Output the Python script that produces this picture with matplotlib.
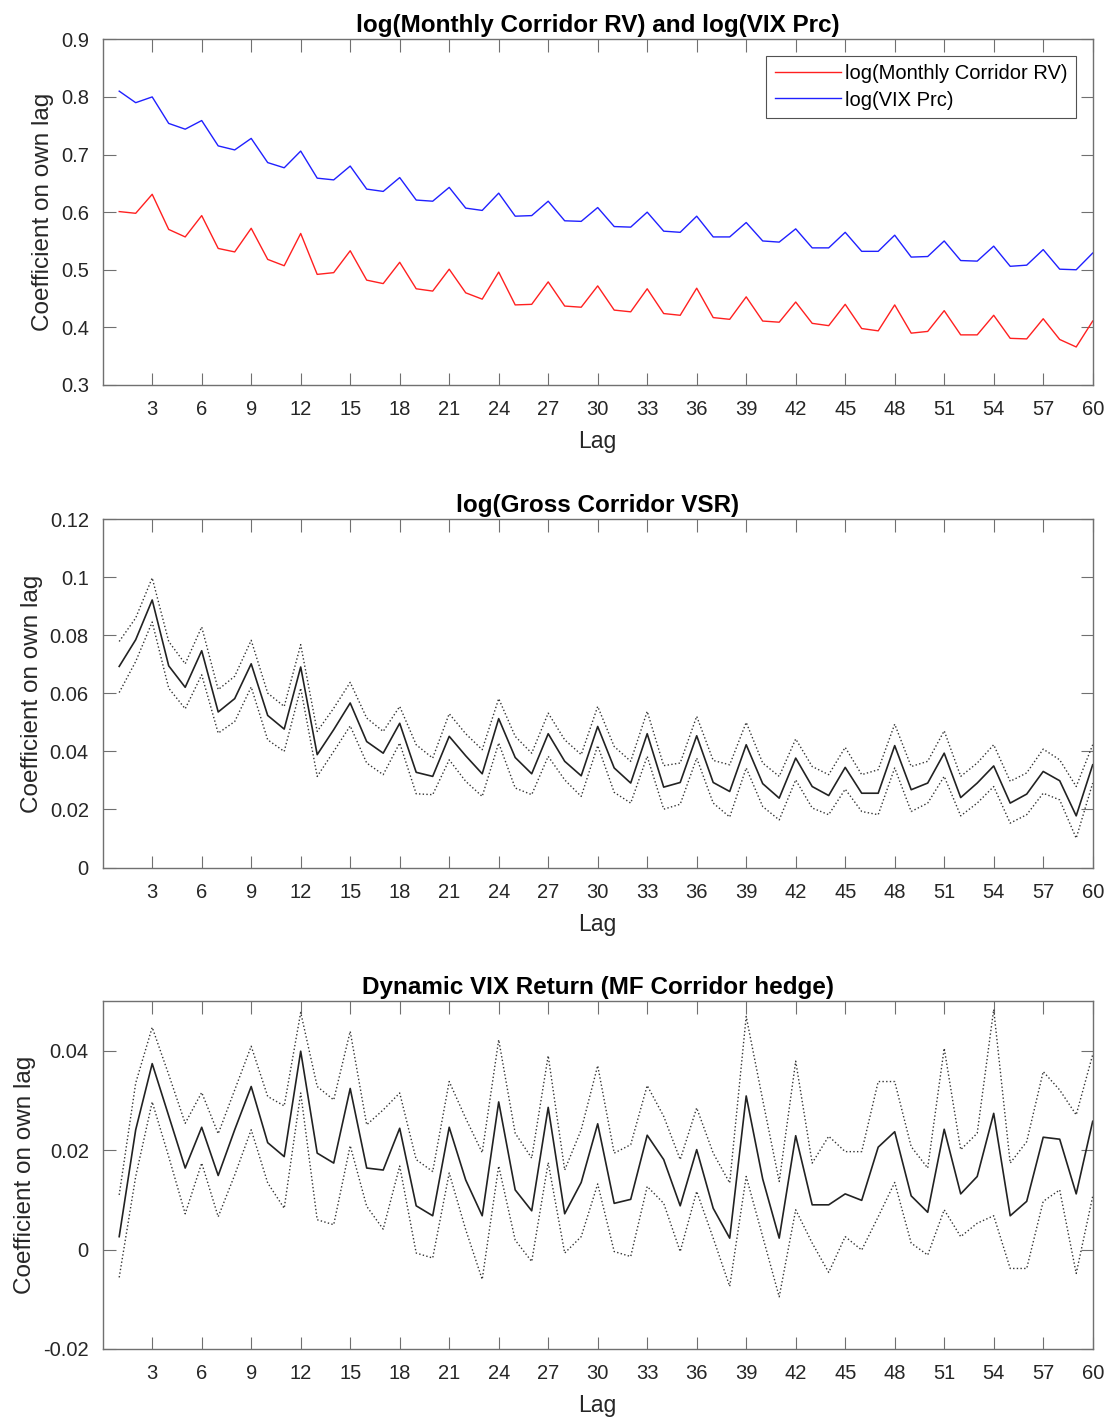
import numpy as np
import matplotlib
matplotlib.use('Agg')
import matplotlib.pyplot as plt

# === DATA ===
lags = np.arange(1, 61)

rv_coef = [0.601, 0.598, 0.631, 0.570, 0.557, 0.594, 0.537, 0.531, 0.572, 0.518,
           0.507, 0.563, 0.492, 0.495, 0.533, 0.482, 0.476, 0.513, 0.467, 0.463,
           0.501, 0.460, 0.449, 0.496, 0.439, 0.440, 0.479, 0.437, 0.435, 0.472,
           0.430, 0.427, 0.467, 0.424, 0.421, 0.468, 0.417, 0.414, 0.453, 0.411,
           0.409, 0.444, 0.407, 0.403, 0.440, 0.398, 0.394, 0.439, 0.390, 0.393,
           0.429, 0.387, 0.387, 0.421, 0.381, 0.380, 0.415, 0.379, 0.366, 0.411]

vix_coef = [0.810, 0.790, 0.800, 0.754, 0.744, 0.759, 0.715, 0.708, 0.728, 0.686,
            0.677, 0.706, 0.659, 0.656, 0.680, 0.640, 0.636, 0.660, 0.621, 0.619,
            0.643, 0.607, 0.603, 0.633, 0.593, 0.594, 0.619, 0.585, 0.584, 0.608,
            0.575, 0.574, 0.600, 0.567, 0.565, 0.593, 0.557, 0.557, 0.582, 0.550,
            0.548, 0.571, 0.538, 0.538, 0.565, 0.532, 0.532, 0.560, 0.522, 0.523,
            0.550, 0.516, 0.515, 0.541, 0.506, 0.508, 0.535, 0.501, 0.500, 0.529]

vsr_coef = [0.0693, 0.0785, 0.0922, 0.0695, 0.0621, 0.0747, 0.0536, 0.0582, 0.0702, 0.0524,
            0.0477, 0.0691, 0.0389, 0.0475, 0.0567, 0.0434, 0.0394, 0.0497, 0.0328, 0.0314,
            0.0452, 0.0385, 0.0323, 0.0513, 0.0379, 0.0323, 0.0461, 0.0366, 0.0316, 0.0486,
            0.0343, 0.0291, 0.0461, 0.0277, 0.0293, 0.0454, 0.0293, 0.0262, 0.0423, 0.0289,
            0.0239, 0.0377, 0.0279, 0.0248, 0.0345, 0.0256, 0.0256, 0.0420, 0.0268, 0.0291,
            0.0394, 0.0241, 0.0291, 0.0350, 0.0222, 0.0253, 0.0331, 0.0299, 0.0178, 0.0354]

vsr_upper = [0.0779, 0.0860, 0.0998, 0.0779, 0.0702, 0.0829, 0.0613, 0.0659, 0.0783, 0.0601,
             0.0555, 0.0768, 0.0469, 0.0549, 0.0638, 0.0515, 0.0469, 0.0555, 0.0423, 0.0377,
             0.0530, 0.0461, 0.0406, 0.0582, 0.0452, 0.0394, 0.0532, 0.0440, 0.0389, 0.0555,
             0.0417, 0.0366, 0.0538, 0.0351, 0.0360, 0.0521, 0.0369, 0.0354, 0.0500, 0.0360,
             0.0314, 0.0443, 0.0348, 0.0320, 0.0414, 0.0320, 0.0337, 0.0494, 0.0348, 0.0366,
             0.0471, 0.0314, 0.0360, 0.0423, 0.0297, 0.0326, 0.0408, 0.0371, 0.0279, 0.0423]

vsr_lower = [0.0603, 0.0710, 0.0846, 0.0618, 0.0547, 0.0664, 0.0463, 0.0503, 0.0622, 0.0440,
             0.0400, 0.0618, 0.0314, 0.0400, 0.0488, 0.0360, 0.0320, 0.0429, 0.0254, 0.0251,
             0.0371, 0.0297, 0.0245, 0.0429, 0.0274, 0.0251, 0.0383, 0.0302, 0.0245, 0.0420,
             0.0259, 0.0222, 0.0383, 0.0201, 0.0218, 0.0377, 0.0222, 0.0174, 0.0343, 0.0210,
             0.0164, 0.0302, 0.0205, 0.0182, 0.0270, 0.0193, 0.0182, 0.0343, 0.0193, 0.0222,
             0.0314, 0.0178, 0.0222, 0.0279, 0.0153, 0.0182, 0.0256, 0.0233, 0.0101, 0.0291]

dvix_coef = [0.0026, 0.0241, 0.0374, 0.0269, 0.0164, 0.0246, 0.0149, 0.0241, 0.0328, 0.0215,
             0.0187, 0.0399, 0.0194, 0.0174, 0.0324, 0.0164, 0.0160, 0.0244, 0.0088, 0.0068,
             0.0246, 0.0140, 0.0068, 0.0297, 0.0120, 0.0078, 0.0286, 0.0072, 0.0135, 0.0253,
             0.0093, 0.0101, 0.0230, 0.0181, 0.0088, 0.0201, 0.0083, 0.0023, 0.0309, 0.0142,
             0.0023, 0.0229, 0.0090, 0.0090, 0.0112, 0.0099, 0.0206, 0.0237, 0.0108, 0.0075,
             0.0242, 0.0112, 0.0147, 0.0274, 0.0068, 0.0097, 0.0226, 0.0222, 0.0112, 0.0258]

dvix_upper = [0.0110, 0.0335, 0.0447, 0.0352, 0.0254, 0.0316, 0.0233, 0.0321, 0.0409, 0.0308,
              0.0289, 0.0477, 0.0328, 0.0301, 0.0439, 0.0251, 0.0281, 0.0315, 0.0181, 0.0157,
              0.0338, 0.0264, 0.0195, 0.0422, 0.0234, 0.0184, 0.0390, 0.0160, 0.0241, 0.0370,
              0.0194, 0.0211, 0.0330, 0.0268, 0.0181, 0.0285, 0.0194, 0.0134, 0.0469, 0.0301,
              0.0137, 0.0379, 0.0174, 0.0228, 0.0197, 0.0197, 0.0338, 0.0338, 0.0207, 0.0164,
              0.0405, 0.0201, 0.0234, 0.0483, 0.0174, 0.0217, 0.0358, 0.0321, 0.0271, 0.0392]

dvix_lower = [-0.0056, 0.0147, 0.0297, 0.0187, 0.0072, 0.0174, 0.0066, 0.0150, 0.0241, 0.0134,
              0.0083, 0.0315, 0.0060, 0.0050, 0.0209, 0.0087, 0.0041, 0.0168, -0.0007, -0.0017,
              0.0154, 0.0040, -0.0060, 0.0168, 0.0019, -0.0024, 0.0175, -0.0007, 0.0026, 0.0132,
              -0.0004, -0.0014, 0.0127, 0.0093, -0.0004, 0.0117, 0.0023, -0.0074, 0.0147, 0.0026,
              -0.0095, 0.0080, 0.0013, -0.0046, 0.0026, -0.0001, 0.0066, 0.0135, 0.0013, -0.0011,
              0.0080, 0.0026, 0.0053, 0.0068, -0.0038, -0.0038, 0.0097, 0.0120, -0.0048, 0.0107]

xticks = np.arange(3, 61, 3)

# === STYLE ===
plt.rcParams['font.family'] = ['Liberation Sans', 'DejaVu Sans']
AX_COLOR = '#262626'
SPINE_COLOR = '#707070'

W, H = 1113, 1420
fig = plt.figure(figsize=(W / 100, H / 100), dpi=100)


def make_axes(top_px, bottom_px):
    left_px, right_px = 102.7, 1092.7
    return fig.add_axes([left_px / W, 1 - bottom_px / H,
                         (right_px - left_px) / W, (bottom_px - top_px) / H])


def style_axes(ax, title, ylim, yticks, ylabels):
    ax.set_xlim(0, 60)
    ax.set_xticks(xticks)
    ax.set_ylim(*ylim)
    ax.set_yticks(yticks)
    ax.set_yticklabels(ylabels)
    ax.tick_params(direction='in', top=True, right=True, length=9, width=0.8,
                   color=SPINE_COLOR, labelcolor=AX_COLOR, labelsize=14.5)
    ax.tick_params(axis='x', pad=11)
    ax.tick_params(axis='y', pad=10)
    for s in ax.spines.values():
        s.set_color(SPINE_COLOR)
        s.set_linewidth(1.0)
    ax.set_title(title, fontsize=17.5, fontweight='bold', color='black', pad=5)
    ax.set_xlabel('Lag', fontsize=16.5, color=AX_COLOR, labelpad=8)
    ax.set_ylabel('Coefficient on own lag', fontsize=17.5, color=AX_COLOR, labelpad=5)


# Panel 1
ax1 = make_axes(39.3, 385.0)
ax1.plot(lags, rv_coef, color='#ff2020', lw=1.0, label='log(Monthly Corridor RV)')
ax1.plot(lags, vix_coef, color='#2020ff', lw=1.0, label='log(VIX Prc)')
style_axes(ax1, 'log(Monthly Corridor RV) and log(VIX Prc)', (0.3, 0.9),
           np.arange(0.3, 0.91, 0.1), ['0.3', '0.4', '0.5', '0.6', '0.7', '0.8', '0.9'])
leg = ax1.legend(loc='upper right', fontsize=14.5, frameon=True, fancybox=False,
                 borderpad=0.4, labelspacing=0.35, handlelength=3.3, handletextpad=0.2,
                 borderaxespad=0.85)
leg.get_frame().set_edgecolor(AX_COLOR)
leg.get_frame().set_linewidth(0.8)

# Panel 2
ax2 = make_axes(519.3, 867.5)
ax2.plot(lags, vsr_coef, color='#222222', lw=1.2)
ax2.plot(lags, vsr_upper, color='#333333', lw=1.0, ls=':')
ax2.plot(lags, vsr_lower, color='#333333', lw=1.0, ls=':')
style_axes(ax2, 'log(Gross Corridor VSR)', (0, 0.12),
           np.arange(0, 0.121, 0.02), ['0', '0.02', '0.04', '0.06', '0.08', '0.1', '0.12'])

# Panel 3
ax3 = make_axes(1001.0, 1349.0)
ax3.plot(lags, dvix_coef, color='#222222', lw=1.2)
ax3.plot(lags, dvix_upper, color='#333333', lw=1.0, ls=':')
ax3.plot(lags, dvix_lower, color='#333333', lw=1.0, ls=':')
style_axes(ax3, 'Dynamic VIX Return (MF Corridor hedge)', (-0.02, 0.05),
           [-0.02, 0, 0.02, 0.04], ['-0.02', '0', '0.02', '0.04'])

fig.savefig('out.png', dpi=100)
